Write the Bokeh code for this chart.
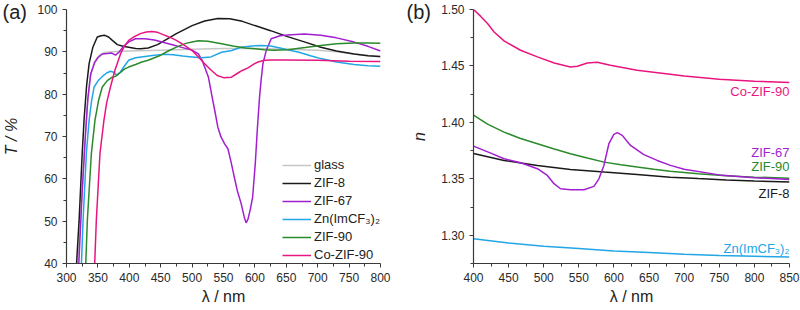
from math import pi
from bokeh.plotting import figure
from bokeh.layouts import row
from bokeh.models import Range1d, FixedTicker, Label, Legend, LegendItem, PrintfTickFormatter, Title
from bokeh.embed import file_html
from bokeh.resources import INLINE

FONT = "Liberation Sans"

# ---------------- panel (a): transmittance ----------------
glass_wl = [316, 322, 328, 333, 338, 344, 352, 362, 380, 400, 450, 500, 550, 600, 650, 700, 730, 758, 800]
glass_T = [35, 50, 66, 77, 84, 87.5, 89.2, 89.9, 90.1, 90.2, 90.4, 90.6, 90.8, 90.8, 90.6, 90.4, 90.0, 89.5, 88.8]

zif8_wl = [312, 316, 320, 325, 328, 332, 336, 342, 349, 355, 361, 367, 373, 381, 390, 399, 410, 418, 430, 445,
           460, 475, 500, 520, 541, 560, 580, 600, 625, 652, 680, 705, 730, 758, 780, 800]
zif8_T = [30, 40, 50, 66, 74, 82, 87.2, 91.1, 93.5, 93.8, 93.9, 93.5, 92.7, 91.7, 91.3, 91.1, 90.8, 90.7, 90.9, 91.7,
          93.0, 94.3, 96.2, 97.3, 97.9, 97.8, 97.2, 96.2, 95.0, 93.6, 92.3, 91.1, 90.2, 89.5, 89.1, 88.9]

zif67_wl = [314, 319.6, 325, 330, 334, 338.5, 345, 350, 357, 365, 372, 378, 384, 392, 400, 410, 425, 440, 455, 470,
            485, 500, 510, 516, 521, 526, 531, 536, 541, 546, 552, 557, 562, 567, 572, 578, 583, 586, 589, 593,
            596.4, 600.6, 604, 607.4, 610, 612.8, 618, 626, 640, 652, 679, 705, 730, 758, 780, 800]
zif67_T = [30, 40, 57, 70, 79, 84.8, 87.5, 88.6, 89.5, 89.6, 89.7, 89.2, 90.0, 91.5, 92.4, 93.1, 93.1, 92.8, 92.2, 91.6,
           91.0, 90.4, 89.5, 88.0, 86.0, 84.0, 80.0, 76.2, 72.2, 69.9, 68.2, 67.1, 64.0, 60.5, 57.2, 54.2, 51.0, 49.6, 50.5, 53.0,
           55.7, 63.6, 72.0, 79.3, 83.5, 87.2, 90.3, 93.1, 93.8, 94.0, 94.2, 93.9, 93.3, 92.3, 91.3, 90.2]

znim_wl = [318, 323.7, 326.4, 331.6, 336, 340, 344, 351, 358, 364, 370, 375, 380, 386, 392, 399, 410, 425, 440, 455,
           470, 485, 500, 515, 530, 547, 563, 578, 595, 610, 625, 640, 652, 670, 690, 705, 730, 758, 780, 800]
znim_T = [30, 39.6, 50.2, 66, 73.8, 78.5, 81.7, 83.3, 84.3, 85.0, 85.4, 85.2, 84.5, 85.3, 86.6, 88.0, 88.6, 88.9, 89.2, 89.4,
          89.3, 89.0, 88.8, 88.6, 88.8, 89.9, 90.3, 91.1, 91.4, 91.5, 91.4, 90.9, 90.5, 89.9, 89.0, 88.4, 87.6, 87.0, 86.7, 86.6]

zif90_wl = [325, 330.6, 333.2, 339.6, 345.3, 351, 357, 365, 372.8, 378, 385, 392, 399, 410, 420, 430, 440, 450, 462, 475,
            490, 500, 510, 525, 547, 565, 585, 600, 615, 630, 652, 680, 705, 730, 758, 780, 800]
zif90_T = [30, 39.6, 50.2, 66, 73.8, 78.5, 81.7, 83.2, 84.0, 84.2, 85.0, 85.9, 86.4, 87.0, 87.6, 88.0, 88.6, 89.2, 90.2, 91.1,
           92.0, 92.3, 92.6, 92.5, 91.9, 91.4, 90.9, 90.7, 90.5, 90.4, 90.5, 91.0, 91.5, 91.9, 92.1, 92.1, 92.0]

cozif90_wl = [340, 344.8, 347.5, 353.3, 359.6, 364, 370, 377, 386, 392, 399, 408, 417.6, 427, 436, 445, 455, 465, 475, 488,
              500, 510, 520, 530, 540, 550, 562.7, 573, 580, 589, 599.5, 605, 615, 626, 650, 700, 750, 800]
cozif90_T = [30, 39.6, 50.2, 66, 73.8, 78, 81.7, 85.6, 89.5, 91.3, 92.7, 93.6, 94.3, 94.7, 94.8, 94.6, 94.0, 93.4, 92.7, 91.5,
             90.3, 88.8, 87.2, 85.7, 84.4, 83.9, 84.0, 85.0, 85.6, 86.2, 87.2, 87.6, 88.0, 88.1, 88.1, 88.0, 87.8, 87.7]

a_xticks = [300, 350, 400, 450, 500, 550, 600, 650, 700, 750, 800]
a_xminor = [325, 375, 425, 475, 525, 575, 625, 675, 725, 775]
a_yticks = [40, 50, 60, 70, 80, 90, 100]
a_yminor = [45, 55, 65, 75, 85, 95]

# ---------------- panel (b): refractive index ----------------
b_co_wl = [400, 410, 420, 429.3, 443.5, 467, 491, 515, 538, 548, 562, 576, 595, 633, 680, 700, 750, 800, 850]
b_co_n = [1.500, 1.4941, 1.4876, 1.4801, 1.4722, 1.4639, 1.4580, 1.4526, 1.4491, 1.4497, 1.4526, 1.4532, 1.4506,
          1.4462, 1.4426, 1.4410, 1.4383, 1.4365, 1.4353]

b_z90_wl = [400, 420, 443.5, 467, 491, 515, 538, 562, 586, 610, 633, 657, 680, 720, 760, 800, 850]
b_z90_n = [1.4064, 1.3985, 1.3914, 1.3857, 1.3811, 1.3765, 1.3723, 1.3684, 1.3648, 1.3625, 1.3604, 1.3585, 1.3568,
           1.3545, 1.3527, 1.3515, 1.3506]

b_z8_wl = [400, 443.5, 491, 538, 586, 633, 680, 720, 760, 800, 850]
b_z8_n = [1.3725, 1.3663, 1.3619, 1.3583, 1.3560, 1.3539, 1.3515, 1.3502, 1.3490, 1.3480, 1.3472]

b_z67_wl = [400, 424.6, 443.5, 467.3, 491, 505.2, 514.6, 524, 538.3, 557.3, 571.5, 578.6, 585.7, 592.8, 599.9, 604.7,
            611.8, 623.6, 642.6, 661.6, 680.5, 700, 750, 800, 850]
b_z67_n = [1.3790, 1.3728, 1.3678, 1.3643, 1.3590, 1.3530, 1.3457, 1.3412, 1.3403, 1.3403, 1.3433, 1.3500, 1.3619,
           1.3811, 1.3894, 1.3909, 1.3885, 1.3796, 1.3714, 1.3663, 1.3619, 1.3585, 1.3535, 1.3510, 1.3495]

b_zn_wl = [400, 450, 500, 550, 600, 650, 700, 750, 800, 850]
b_zn_n = [1.2970, 1.2932, 1.2903, 1.2882, 1.2861, 1.2847, 1.2832, 1.2820, 1.2814, 1.2808]

b_xticks = [400, 450, 500, 550, 600, 650, 700, 750, 800, 850]
b_xminor = [425, 475, 525, 575, 625, 675, 725, 775, 825]
b_yticks = [1.30, 1.35, 1.40, 1.45, 1.50]
b_yminor = [1.275, 1.325, 1.375, 1.425, 1.475]

names = ["glass", "ZIF-8", "ZIF-67", "Zn(ImCF\u2083)\u2082", "ZIF-90", "Co-ZIF-90"]
colors = ["#c6c6c6", "#1a1a1a", "#a21fcf", "#22a6e6", "#2b8a2b", "#e8157f"]

AX = "#3a3a3a"
TXT = "#222222"


def style(p, xt, xm, yt, ym, ylab, xlab, ystand):
    p.xaxis[0].ticker = FixedTicker(ticks=xt, minor_ticks=xm)
    p.yaxis[0].ticker = FixedTicker(ticks=yt, minor_ticks=ym)
    for ax in (p.xaxis[0], p.yaxis[0]):
        ax.axis_line_color = AX
        ax.axis_line_width = 1.2
        ax.major_tick_line_color = AX
        ax.minor_tick_line_color = AX
        ax.major_tick_in = 0
        ax.major_tick_out = 4
        ax.minor_tick_in = 0
        ax.minor_tick_out = 3
        ax.major_label_text_font = FONT
        ax.major_label_text_font_size = "12px"
        ax.major_label_text_color = "#2a2a2a"
        ax.axis_label_text_font = FONT
        ax.axis_label_text_font_size = "16px"
        ax.axis_label_text_color = TXT
    p.xaxis[0].axis_label = xlab
    p.yaxis[0].axis_label = ylab
    p.xaxis[0].axis_label_text_font_style = "normal"
    p.yaxis[0].axis_label_text_font_style = "italic"
    p.xaxis[0].major_label_standoff = 5
    p.yaxis[0].major_label_standoff = 5
    p.xaxis[0].axis_label_standoff = 3
    p.yaxis[0].axis_label_standoff = ystand
    p.xgrid.visible = False
    p.ygrid.visible = False
    p.outline_line_color = None


def panel_title(text, offset):
    return Title(text=text, align="left", offset=offset, standoff=-26, vertical_align="bottom",
                 text_font=FONT, text_font_size="20px", text_font_style="normal", text_color=TXT)


pa = figure(width=400, height=310, x_range=Range1d(300, 800), y_range=Range1d(40, 100),
            output_backend="svg", toolbar_location=None,
            min_border_left=64, min_border_right=20, min_border_top=9, min_border_bottom=47)
pa.title = panel_title("(a)", -64)
style(pa, a_xticks, a_xminor, a_yticks, a_yminor, "T / %", "\u03bb / nm", 14)

series_a = [(glass_wl, glass_T), (zif8_wl, zif8_T), (zif67_wl, zif67_T),
            (znim_wl, znim_T), (zif90_wl, zif90_T), (cozif90_wl, cozif90_T)]
items = []
for (wl, T), nm, c in zip(series_a, names, colors):
    r = pa.line(wl, T, line_color=c, line_width=1.5)
    items.append(LegendItem(label=nm, renderers=[r]))

leg = Legend(items=items, location=(216, 1), padding=0, margin=0, spacing=3,
             glyph_width=29, glyph_height=14, label_height=14, label_standoff=3,
             label_text_font=FONT, label_text_font_size="13px", label_text_color=TXT,
             border_line_color=None, background_fill_alpha=0)
pa.add_layout(leg, "center")

pb = figure(width=400, height=310, x_range=Range1d(400, 850), y_range=Range1d(1.275, 1.50),
            output_backend="svg", toolbar_location=None,
            min_border_left=73, min_border_right=11, min_border_top=9, min_border_bottom=47)
pb.title = panel_title("(b)", -67)
style(pb, b_xticks, b_xminor, b_yticks, b_yminor, "n", "\u03bb / nm", 10)
pb.yaxis[0].formatter = PrintfTickFormatter(format="%.2f")

series_b = [(b_z8_wl, b_z8_n, 1), (b_z90_wl, b_z90_n, 4), (b_z67_wl, b_z67_n, 2),
            (b_zn_wl, b_zn_n, 3), (b_co_wl, b_co_n, 5)]
for wl, n, ci in series_b:
    pb.line(wl, n, line_color=colors[ci], line_width=1.5)

b_labels = [("Co-ZIF-90", 1.4278, 5), ("ZIF-67", 1.3737, 2), ("ZIF-90", 1.3613, 4),
            ("ZIF-8", 1.3373, 1), ("Zn(ImCF\u2083)\u2082", 1.2880, 3)]
for txt, yv, ci in b_labels:
    pb.add_layout(Label(x=850, y=yv, text=txt, text_font=FONT, text_font_size="13px",
                        text_align="right", text_baseline="middle", text_color=colors[ci]))

layout = row(pa, pb)
open("out.html", "w").write(file_html(layout, INLINE))
